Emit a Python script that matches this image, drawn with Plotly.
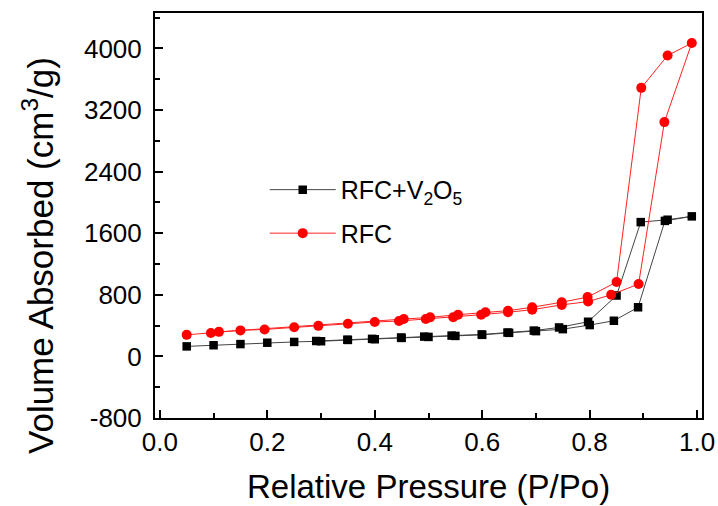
import plotly.graph_objects as go

# RFC+V2O5: adsorption followed by desorption
p_rfcv = [0.05, 0.10, 0.15, 0.20, 0.25, 0.30, 0.35, 0.40, 0.45, 0.50, 0.55, 0.60, 0.65, 0.70, 0.75, 0.80, 0.845, 0.89, 0.94, 0.99,
          0.945, 0.895, 0.85, 0.797, 0.743, 0.696, 0.647, 0.599, 0.543, 0.492, 0.449, 0.395, 0.349, 0.291]
v_rfcv = [130, 145, 160, 178, 188, 197, 214, 223, 240, 253, 266, 280, 306, 328, 354, 407, 463, 638, 1760, 1819,
          1775, 1744, 791, 450, 376, 335, 310, 285, 270, 257, 245, 228, 216, 200]

# RFC: adsorption followed by desorption
p_rfc = [0.05, 0.095, 0.15, 0.195, 0.25, 0.295, 0.35, 0.40, 0.445, 0.495, 0.546, 0.598, 0.648, 0.693, 0.748, 0.797, 0.84, 0.891, 0.939, 0.99,
         0.945, 0.896, 0.85, 0.796, 0.748, 0.693, 0.648, 0.606, 0.555, 0.503, 0.454, 0.11]
v_rfc = [280, 305, 338, 350, 378, 397, 425, 447, 459, 485, 508, 542, 573, 607, 669, 712, 800, 940, 3043, 4070,
         3908, 3488, 966, 770, 704, 638, 594, 573, 542, 507, 485, 319]

# tick labels
x_tickvals = [0.0, 0.2, 0.4, 0.6, 0.8, 1.0]
x_ticktext = ["0.0", "0.2", "0.4", "0.6", "0.8", "1.0"]
y_tickvals = [-800, 0, 800, 1600, 2400, 3200, 4000]
y_ticktext = ["-800", "0", "800", "1600", "2400", "3200", "4000"]

FONT = "Liberation Sans, Arial, sans-serif"

fig = go.Figure()
fig.add_trace(go.Scatter(
    x=p_rfcv, y=v_rfcv, mode="lines+markers", name="RFC+V<sub>2</sub>O<sub>5</sub>",
    line=dict(color="#444444", width=1),
    marker=dict(symbol="square", size=8.5, color="black"),
    legendgroup="a"))
fig.add_trace(go.Scatter(
    x=p_rfc, y=v_rfc, mode="lines+markers", name="RFC",
    line=dict(color="#ff2222", width=1),
    marker=dict(symbol="circle", size=10, color="#ff0000"),
    legendgroup="b"))

axis_common = dict(
    showline=True, linecolor="black", linewidth=2, mirror=True,
    ticks="inside", ticklen=8, tickwidth=1.5, tickcolor="black",
    showgrid=False, zeroline=False, tickmode="array", automargin=False,
    tickfont=dict(family=FONT, size=26, color="black"),
)

fig.update_xaxes(
    range=[-0.009, 1.009], tickvals=x_tickvals, ticktext=x_ticktext,
    minor=dict(tickmode="linear", tick0=0, dtick=0.1, ticks="inside", ticklen=5,
               tickcolor="black", tickwidth=1.5, showgrid=False),
    ticklabelstandoff=0,
    **axis_common)
fig.update_yaxes(
    range=[-800, 4460], tickvals=y_tickvals, ticktext=y_ticktext,
    minor=dict(tickmode="linear", tick0=0, dtick=400, ticks="inside", ticklen=5,
               tickcolor="black", tickwidth=1.5, showgrid=False),
    ticklabelstandoff=6,
    **axis_common)

fig.update_layout(
    width=718, height=506,
    margin=dict(l=155, r=16, t=13, b=88, autoexpand=False),
    paper_bgcolor="white", plot_bgcolor="white",
    font=dict(family=FONT, color="black"),
    legend=dict(x=0.2006, y=0.62, xanchor="left", yanchor="top",
                font=dict(family=FONT, size=25, color="black"),
                bgcolor="rgba(0,0,0,0)", itemwidth=66, tracegroupgap=8,
                traceorder="grouped"),
    annotations=[
        dict(text="Relative Pressure (P/Po)", xref="paper", yref="paper",
             x=0.5, y=(418 - 487) / 405, xanchor="center", yanchor="middle",
             showarrow=False, font=dict(family=FONT, size=33, color="black")),
        dict(text="Volume Absorbed (cm<sup>3</sup>/g)", xref="paper", yref="paper",
             x=(38 - 155) / 547, y=(418 - 256) / 405, xanchor="center", yanchor="middle",
             textangle=-90, showarrow=False, font=dict(family=FONT, size=35, color="black")),
    ],
)

fig.write_html(
    "out.html",
    config={"displayModeBar": False},
    post_script="document.body.style.margin='0';document.body.style.overflow='hidden';",
)
